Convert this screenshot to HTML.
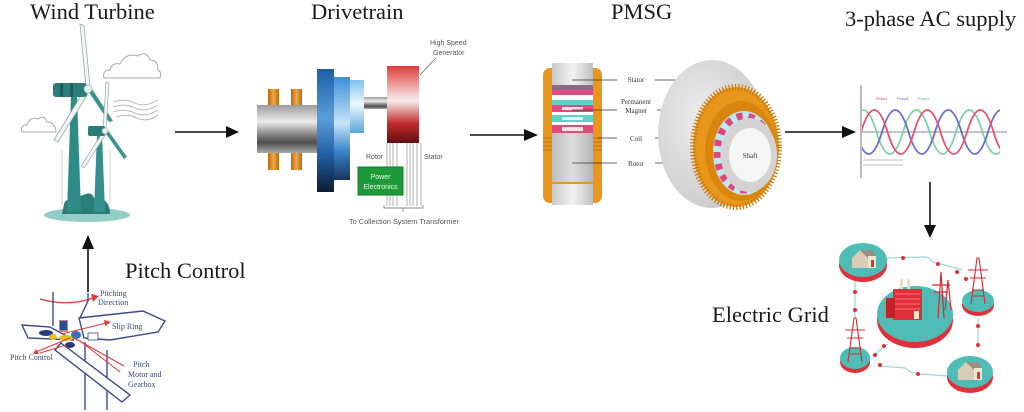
<!DOCTYPE html>
<html>
<head>
<meta charset="utf-8">
<style>
html,body{margin:0;padding:0;background:#fff;}
svg{display:block;}
.t{font-family:"Liberation Serif",serif;font-size:22.5px;fill:#1a1a1a;}
.s{font-family:"Liberation Sans",sans-serif;fill:#555;}
.ps{font-family:"Liberation Serif",serif;font-size:7px;fill:#333;}
.pc{font-family:"Liberation Serif",serif;font-size:8px;fill:#3a4a7a;}
</style>
</head>
<body>
<svg width="1024" height="412" viewBox="0 0 1024 412" xmlns="http://www.w3.org/2000/svg">
<defs>
  <linearGradient id="gray" x1="0" y1="0" x2="0" y2="1">
    <stop offset="0" stop-color="#9c9c9c"/>
    <stop offset="0.35" stop-color="#ececec"/>
    <stop offset="0.6" stop-color="#8a8a8a"/>
    <stop offset="0.78" stop-color="#4e4e4e"/>
    <stop offset="1" stop-color="#a8a8a8"/>
  </linearGradient>
  <linearGradient id="blue1" x1="0" y1="0" x2="0" y2="1">
    <stop offset="0" stop-color="#1c5fa8"/>
    <stop offset="0.4" stop-color="#5a9ed8"/>
    <stop offset="0.7" stop-color="#245ea4"/>
    <stop offset="1" stop-color="#0b1c33"/>
  </linearGradient>
  <linearGradient id="blue2" x1="0" y1="0" x2="0" y2="1">
    <stop offset="0" stop-color="#3b8fda"/>
    <stop offset="0.45" stop-color="#c6e4f7"/>
    <stop offset="0.72" stop-color="#3a84cc"/>
    <stop offset="1" stop-color="#16345e"/>
  </linearGradient>
  <linearGradient id="blue3" x1="0" y1="0" x2="0" y2="1">
    <stop offset="0" stop-color="#7fc2ee"/>
    <stop offset="0.45" stop-color="#eef7fc"/>
    <stop offset="1" stop-color="#5aa6dc"/>
  </linearGradient>
  <linearGradient id="red" x1="0" y1="0" x2="0" y2="1">
    <stop offset="0" stop-color="#e23c3c"/>
    <stop offset="0.45" stop-color="#f6eded"/>
    <stop offset="0.75" stop-color="#c02a2a"/>
    <stop offset="1" stop-color="#621010"/>
  </linearGradient>
  <linearGradient id="bolt" x1="0" y1="0" x2="1" y2="0">
    <stop offset="0" stop-color="#b86a10"/>
    <stop offset="0.5" stop-color="#f0a848"/>
    <stop offset="1" stop-color="#b86a10"/>
  </linearGradient>
  <linearGradient id="pg" x1="0" y1="0" x2="1" y2="0">
    <stop offset="0" stop-color="#c8c8c8"/>
    <stop offset="0.5" stop-color="#f2f2f2"/>
    <stop offset="1" stop-color="#c0c0c0"/>
  </linearGradient>
  <linearGradient id="pg2" x1="0" y1="0" x2="1" y2="0">
    <stop offset="0" stop-color="#bdbdbd"/>
    <stop offset="0.5" stop-color="#dedede"/>
    <stop offset="1" stop-color="#b5b5b5"/>
  </linearGradient>
  <radialGradient id="back" cx="0.4" cy="0.4" r="0.7">
    <stop offset="0" stop-color="#ededed"/>
    <stop offset="1" stop-color="#c9c9c9"/>
  </radialGradient>
  <clipPath id="wclip"><rect x="862" y="80" width="138" height="100"/></clipPath>
</defs>

<rect width="1024" height="412" fill="#fff"/>

<!-- ================= TITLES ================= -->
<text class="t" x="30" y="19">Wind Turbine</text>
<text class="t" x="311" y="19">Drivetrain</text>
<text class="t" x="611" y="19">PMSG</text>
<text class="t" x="845" y="26">3-phase AC supply</text>
<text class="t" x="125" y="278">Pitch Control</text>
<text class="t" x="712" y="322">Electric Grid</text>

<!-- ================= ARROWS ================= -->
<g stroke="#111" stroke-width="1.6" fill="#111">
  <line x1="175" y1="132" x2="228" y2="132"/>
  <polygon points="226,126 239,132 226,138" stroke="none"/>
  <line x1="470" y1="135" x2="526" y2="135"/>
  <polygon points="524,129 538,135 524,141" stroke="none"/>
  <line x1="785" y1="132" x2="844" y2="132"/>
  <polygon points="842,126 856,132 842,138" stroke="none"/>
  <line x1="930" y1="182" x2="930" y2="227"/>
  <polygon points="924,225 930,238 936,225" stroke="none"/>
  <line x1="88" y1="292" x2="88" y2="247"/>
  <polygon points="82,249 88,235 94,249" stroke="none"/>
</g>

<!-- ================= WIND TURBINE ================= -->
<g>
  <!-- clouds -->
  <path d="M104,78 Q102,70 110,70 Q112,62 120,64 Q126,52 138,56 Q146,50 150,60 Q158,60 158,70 Q162,72 160,78 Z" fill="none" stroke="#aaa" stroke-width="1"/>
  <path d="M22,132 Q20,125 27,125 Q30,116 38,119 Q44,114 47,122 Q55,122 56,132 Z" fill="none" stroke="#aaa" stroke-width="1"/>
  <!-- wind lines -->
  <g fill="none" stroke="#b0b0b0" stroke-width="0.9">
    <path d="M113,102 Q125,98 135,103 T158,100"/>
    <path d="M113,107 Q125,103 135,108 T158,105"/>
    <path d="M113,112 Q125,108 135,113 T158,110"/>
    <path d="M116,117 Q127,113 137,118 T158,115"/>
  </g>
  <!-- base -->
  <ellipse cx="87" cy="215" rx="43" ry="7" fill="#93cdc6"/>
  <path d="M62,214 L64,204 Q66,198 70,202 L72,196 Q76,192 80,196 L86,194 Q92,192 94,198 L104,200 Q110,204 110,214 Z" fill="#2a7d78"/>
  <!-- big tower -->
  <polygon points="71,96 77,96 81,212 67,212" fill="#2f8b86"/>
  <!-- small tower -->
  <polygon points="97,134 102,134 105,212 94,212" fill="#358f8a"/>
  <!-- big blades -->
  <polygon points="86,87 80,24 84,26 90,86" fill="#f4f7f7" stroke="#9aa" stroke-width="0.8"/>
  <polygon points="86,88 90,86 113,121 109,122" fill="#3a938e"/>
  <polygon points="85,89 89,92 58,142 54,140" fill="#f0f4f4" stroke="#9aa" stroke-width="0.8"/>
  <!-- big nacelle -->
  <rect x="53" y="83" width="34" height="14" rx="3" fill="#2a7d78"/>
  <rect x="60" y="83" width="3" height="14" fill="#1c5e5a"/>
  <rect x="70" y="83" width="3" height="14" fill="#1c5e5a"/>
  <circle cx="88" cy="89" r="4" fill="#e8eeee" stroke="#9aa" stroke-width="0.6"/>
  <!-- small blades -->
  <polygon points="103,130 106,82 109,83 106,130" fill="#f4f7f7" stroke="#9aa" stroke-width="0.7"/>
  <polygon points="104,131 107,129 127,157 124,159" fill="#3a938e"/>
  <polygon points="103,132 106,134 84,168 81,166" fill="#f0f4f4" stroke="#9aa" stroke-width="0.7"/>
  <rect x="88" y="126" width="17" height="10" rx="2" fill="#2a7d78"/>
  <circle cx="105" cy="131" r="3" fill="#e8eeee" stroke="#9aa" stroke-width="0.5"/>
  <!-- faint sketch lines -->
  <line x1="62" y1="150" x2="62" y2="205" stroke="#c8c8c8" stroke-width="0.8"/>
  <line x1="110" y1="150" x2="110" y2="205" stroke="#c8c8c8" stroke-width="0.8"/>
</g>

<!-- ================= DRIVETRAIN ================= -->
<g>
  <!-- bolts -->
  <rect x="268" y="89" width="11" height="17" fill="url(#bolt)"/>
  <rect x="291" y="89" width="11" height="17" fill="url(#bolt)"/>
  <rect x="268" y="152" width="11" height="18" fill="url(#bolt)"/>
  <rect x="291" y="152" width="11" height="18" fill="url(#bolt)"/>
  <!-- main cylinder -->
  <rect x="257" y="105" width="62" height="48" fill="url(#gray)"/>
  <!-- blue disks -->
  <rect x="317" y="69" width="17" height="123" fill="url(#blue1)"/>
  <rect x="334" y="77" width="16" height="103" fill="url(#blue2)"/>
  <rect x="350" y="80" width="14" height="53" fill="url(#blue3)"/>
  <!-- shaft -->
  <rect x="364" y="97" width="24" height="12" fill="url(#gray)"/>
  <!-- generator -->
  <rect x="387" y="66" width="32" height="77" fill="url(#red)"/>
  <!-- label -->
  <text class="s" x="430" y="45" font-size="7">High Speed</text>
  <text class="s" x="433" y="55" font-size="7">Generator</text>
  <line x1="436" y1="58" x2="420" y2="75" stroke="#666" stroke-width="0.8"/>
  <!-- wires -->
  <g stroke="#aaa" stroke-width="0.9">
    <line x1="387" y1="143" x2="387" y2="206"/>
    <line x1="390" y1="143" x2="390" y2="206"/>
    <line x1="393" y1="143" x2="393" y2="206"/>
    <line x1="397" y1="143" x2="397" y2="206"/>
    <line x1="407" y1="143" x2="407" y2="206"/>
    <line x1="410" y1="143" x2="410" y2="206"/>
    <line x1="413" y1="143" x2="413" y2="206"/>
    <line x1="417" y1="143" x2="417" y2="206"/>
    <line x1="421" y1="143" x2="421" y2="206"/>
  </g>
  <path d="M384,205 L384,208 L423,208 L423,205 M403,208 L403,212" fill="none" stroke="#888" stroke-width="0.9"/>
  <text class="s" x="366" y="159" font-size="7">Rotor</text>
  <text class="s" x="424" y="159" font-size="7">Stator</text>
  <rect x="358" y="167" width="45" height="28" fill="#1f9a3a" stroke="#147a2a" stroke-width="1"/>
  <text x="380.5" y="179" font-family="Liberation Sans,sans-serif" font-size="7" fill="#e8ffe8" text-anchor="middle">Power</text>
  <text x="380.5" y="189" font-family="Liberation Sans,sans-serif" font-size="7" fill="#e8ffe8" text-anchor="middle">Electronics</text>
  <text class="s" x="349" y="224" font-size="7.5" textLength="110" lengthAdjust="spacingAndGlyphs">To Collection System Transformer</text>
</g>

<!-- ================= PMSG LEFT ================= -->
<g>
  <rect x="543" y="68" width="59" height="135" rx="7" fill="#e8961c"/>
  <g stroke="#b86d08" stroke-width="1">
    <line x1="543" y1="138" x2="552" y2="138"/><line x1="543" y1="142" x2="552" y2="142"/>
    <line x1="543" y1="146" x2="552" y2="146"/><line x1="543" y1="150" x2="552" y2="150"/>
    <line x1="593" y1="138" x2="602" y2="138"/><line x1="593" y1="142" x2="602" y2="142"/>
    <line x1="593" y1="146" x2="602" y2="146"/><line x1="593" y1="150" x2="602" y2="150"/>
  </g>
  <rect x="552" y="63" width="41" height="22" fill="url(#pg)"/>
  <rect x="552" y="85" width="41" height="5" fill="#8a6a86"/>
  <rect x="552" y="90" width="41" height="5" fill="#e24a7c"/>
  <rect x="552" y="95" width="41" height="5" fill="#ffffff"/>
  <rect x="552" y="100" width="41" height="5" fill="#5fd2cb"/>
  <rect x="552" y="105" width="41" height="7" fill="#e24a7c"/>
  <rect x="562" y="107" width="21" height="3" fill="#fbe0ea"/>
  <rect x="552" y="112" width="41" height="3" fill="#ffffff"/>
  <rect x="552" y="115" width="41" height="7" fill="#5fd2cb"/>
  <rect x="562" y="117" width="21" height="3" fill="#e0f7f5"/>
  <rect x="552" y="122" width="41" height="3" fill="#ffffff"/>
  <rect x="552" y="125" width="41" height="8" fill="#e24a7c"/>
  <rect x="562" y="127" width="21" height="4" fill="#fbe0ea"/>
  <rect x="552" y="133" width="41" height="49" fill="url(#pg2)"/>
  <rect x="552" y="184" width="41" height="21" fill="url(#pg)"/>
</g>

<!-- ================= PMSG LABELS ================= -->
<g stroke="#333" stroke-width="0.8">
  <line x1="572" y1="80" x2="617" y2="80"/>
  <line x1="655" y1="80" x2="693" y2="80"/>
  <line x1="572" y1="110" x2="617" y2="110"/>
  <line x1="657" y1="110" x2="723" y2="110"/>
  <line x1="598" y1="138" x2="617" y2="138"/>
  <line x1="655" y1="138" x2="695" y2="138"/>
  <line x1="572" y1="163" x2="617" y2="163"/>
  <line x1="655" y1="163" x2="727" y2="163"/>
</g>
<text class="ps" x="636" y="82" text-anchor="middle">Stator</text>
<text class="ps" x="636" y="104" text-anchor="middle">Permanent</text>
<text class="ps" x="636" y="113" text-anchor="middle">Magnet</text>
<text class="ps" x="636" y="141" text-anchor="middle">Coil</text>
<text class="ps" x="636" y="166" text-anchor="middle">Rotor</text>

<!-- ================= PMSG RIGHT ================= -->
<g>
  <ellipse cx="712" cy="134" rx="54" ry="74" fill="url(#back)"/>
  <ellipse cx="736" cy="147" rx="43" ry="60" fill="#e8961c"/>
  <ellipse cx="736" cy="147" rx="43" ry="60" fill="none" stroke="#c47708" stroke-width="6" stroke-dasharray="1.2 2"/>
  <ellipse cx="741" cy="151" rx="36" ry="50" fill="#d9860f"/>
  <ellipse cx="744" cy="153" rx="31" ry="42" fill="#bfe9f0"/>
  <ellipse cx="744" cy="153" rx="27" ry="37" fill="none" stroke="#e2457a" stroke-width="7" stroke-dasharray="6 6"/>
  <ellipse cx="749" cy="155" rx="28" ry="37" fill="#d3d3d3"/>
  <ellipse cx="750" cy="155" rx="21" ry="27" fill="#f6f6f6"/>
  <text class="ps" x="750" y="158" text-anchor="middle" font-size="6.5">Shaft</text>
</g>

<!-- ================= 3-PHASE ================= -->
<g>
  <line x1="861" y1="85" x2="861" y2="178" stroke="#777" stroke-width="1"/>
  <line x1="861" y1="132" x2="1007" y2="132" stroke="#888" stroke-width="1"/>
  <g clip-path="url(#wclip)" fill="none" stroke-width="1.8">
    <path d="M797,132 Q810.25,88 823.5,132 T850,132 T876.5,132 T903,132 T929.5,132 T956,132 T982.5,132 T1009,132" stroke="#7fcfa8"/>
    <path d="M776,132 Q789.25,88 802.5,132 T829,132 T855.5,132 T882,132 T908.5,132 T935,132 T961.5,132 T988,132 T1014.5,132" stroke="#6a6ad2"/>
    <path d="M808,132 Q821.25,88 834.5,132 T861,132 T887.5,132 T914,132 T940.5,132 T967,132 T993.5,132 T1020,132" stroke="#e8506a"/>
  </g>
  <text x="876" y="100" font-family="Liberation Sans,sans-serif" font-size="3.5" fill="#e8506a">Phase1</text>
  <text x="897" y="100" font-family="Liberation Sans,sans-serif" font-size="3.5" fill="#6a6ad2">Phase2</text>
  <text x="917" y="100" font-family="Liberation Sans,sans-serif" font-size="3.5" fill="#5fbf90">Phase3</text>
  <path d="M863,160 L903,160 M863,165 L903,165" stroke="#aaa" stroke-width="0.7"/>
</g>

<!-- ================= ELECTRIC GRID ================= -->
<g>
  <!-- connection lines -->
  <g fill="none" stroke="#9ed6d0" stroke-width="1.2">
    <path d="M887,258 L925,257 Q930,257 932,262 L945,265 L962,270"/>
    <path d="M978,318 L978,348"/>
    <path d="M948,376 L920,374 Q910,373 905,368 L878,366"/>
    <path d="M872,356 L880,350 L888,344"/>
    <path d="M855,280 L855,318"/>
  </g>
  <g fill="#e0303a">
    <circle cx="903" cy="258" r="2"/><circle cx="938" cy="264" r="2"/>
    <circle cx="957" cy="272" r="2"/><circle cx="966" cy="279" r="2"/>
    <circle cx="978" cy="326" r="2"/><circle cx="978" cy="345" r="2"/>
    <circle cx="880" cy="365" r="2"/><circle cx="918" cy="374" r="2"/>
    <circle cx="875" cy="355" r="2"/><circle cx="884" cy="346" r="2"/>
    <circle cx="855" cy="292" r="2"/><circle cx="855" cy="310" r="2"/>
  </g>
  <!-- big disc -->
  <ellipse cx="915" cy="320" rx="38" ry="28" fill="#e0303a"/>
  <ellipse cx="915" cy="314" rx="38" ry="28" fill="#4fbdb5"/>
  <!-- factory -->
  <rect x="900" y="279" width="3" height="10" fill="#e9e0c8"/>
  <rect x="907" y="279" width="3" height="10" fill="#e9e0c8"/>
  <polygon points="893,289 922,289 922,320 893,320" fill="#e0303a"/>
  <polygon points="886,298 895,298 895,318 886,318" fill="#c42028"/>
  <g stroke="#ff8a8a" stroke-width="0.7">
    <line x1="895" y1="294" x2="920" y2="294"/><line x1="895" y1="299" x2="920" y2="299"/>
    <line x1="895" y1="304" x2="920" y2="304"/><line x1="895" y1="309" x2="920" y2="309"/>
  </g>
  <rect x="914" y="311" width="5" height="8" fill="#f5e8c8"/>
  <!-- red pylons on big disc -->
  <g stroke="#d42a32" stroke-width="1.2" fill="none">
    <path d="M938,318 L941,272 L944,318 M932,285 L950,285 M934,292 L948,292"/>
    <path d="M945,310 L948,280 L951,310"/>
  </g>
  <!-- house disc TL -->
  <ellipse cx="863" cy="265" rx="24" ry="17" fill="#e0303a"/>
  <ellipse cx="863" cy="260" rx="24" ry="17" fill="#4fbdb5"/>
  <polygon points="852,258 860,250 868,258 868,268 852,268" fill="#d9cdb5"/>
  <polygon points="860,250 872,250 876,256 868,258" fill="#9a8f80"/>
  <rect x="868" y="256" width="8" height="12" fill="#efe6d2"/>
  <rect x="871" y="260" width="3" height="7" fill="#e0303a"/>
  <!-- house disc BR -->
  <ellipse cx="970" cy="377" rx="23" ry="16" fill="#e0303a"/>
  <ellipse cx="970" cy="372" rx="23" ry="16" fill="#4fbdb5"/>
  <polygon points="958,370 966,362 974,370 974,380 958,380" fill="#d9cdb5"/>
  <polygon points="966,362 978,362 982,368 974,370" fill="#9a8f80"/>
  <rect x="974" y="368" width="8" height="12" fill="#efe6d2"/>
  <rect x="977" y="372" width="3" height="7" fill="#e0303a"/>
  <!-- tower disc R -->
  <ellipse cx="978" cy="305" rx="16" ry="11" fill="#e0303a"/>
  <ellipse cx="978" cy="301" rx="16" ry="11" fill="#4fbdb5"/>
  <g stroke="#d42a32" stroke-width="1.1" fill="none">
    <path d="M971,304 L977,258 L979,258 L985,304 M968,270 L988,270 M970,278 L986,278 M972,290 L984,290 M973,296 L983,296"/>
  </g>
  <!-- tower disc L -->
  <ellipse cx="855" cy="362" rx="15" ry="11" fill="#e0303a"/>
  <ellipse cx="855" cy="358" rx="15" ry="11" fill="#4fbdb5"/>
  <g stroke="#d42a32" stroke-width="1.1" fill="none">
    <path d="M848,362 L854,318 L856,318 L862,362 M845,330 L865,330 M847,338 L863,338 M849,348 L861,348 M850,354 L860,354"/>
  </g>
</g>

<!-- ================= PITCH CONTROL DIAGRAM ================= -->
<g>
  <!-- red arc -->
  <path d="M40,299 Q68,307 93,298" fill="none" stroke="#e03a3a" stroke-width="1.3"/>
  <polygon points="91,294 99,296 93,302" fill="#e03a3a"/>
  <!-- vertical lines -->
  <g stroke="#3a4a8a" stroke-width="1.4" fill="none">
    <line x1="53" y1="292" x2="53" y2="326"/>
    <path d="M88,293 L88,301 L79,320"/>
    <line x1="85" y1="342" x2="85" y2="410"/>
    <line x1="107" y1="350" x2="107" y2="410"/>
  </g>
  <!-- blades -->
  <g fill="#fff" stroke="#3a4a8a" stroke-width="1.4">
    <polygon points="79,318 143,311 165,321 158,332 110,340 84,338"/>
    <polygon points="22,325 50,327 74,340 28,338"/>
    <polygon points="61,343 130,395 122,402 55,350"/>
  </g>
  <!-- hub parts -->
  <rect x="59" y="320" width="9" height="12" fill="#d87a80"/>
  <rect x="60" y="321" width="7" height="9" fill="#2a5090"/>
  <ellipse cx="46" cy="333" rx="7" ry="3" fill="#2a3a7a"/>
  <ellipse cx="53" cy="337" rx="4" ry="3" fill="#e6c020"/>
  <ellipse cx="66" cy="338" rx="7" ry="3" fill="#e6c020"/>
  <ellipse cx="76" cy="335" rx="5" ry="4" fill="#3a70c0"/>
  <ellipse cx="70" cy="345" rx="5" ry="3" fill="#2a3a7a"/>
  <rect x="88" y="333" width="10" height="7" fill="#fff" stroke="#3a4a8a" stroke-width="0.8"/>
  <!-- red pointer lines -->
  <g stroke="#e03a3a" stroke-width="1.1">
    <line x1="62" y1="334" x2="106" y2="323"/>
    <line x1="36" y1="352" x2="70" y2="338"/>
    <line x1="40" y1="353" x2="66" y2="345"/>
    <line x1="74" y1="338" x2="124" y2="366"/>
    <line x1="80" y1="341" x2="120" y2="372"/>
  </g>
  <polygon points="104,320 111,322 105,326" fill="#e03a3a"/>
  <polygon points="36,349 33,354 39,354" fill="#e03a3a"/>
  <!-- labels -->
  <text class="pc" x="100" y="296">Pitching</text>
  <text class="pc" x="98" y="305">Direction</text>
  <text class="pc" x="112" y="329">Slip Ring</text>
  <text class="pc" x="10" y="360">Pitch Control</text>
  <text class="pc" x="133" y="367">Pitch</text>
  <text class="pc" x="128" y="377">Motor and</text>
  <text class="pc" x="128" y="387">Gearbox</text>
</g>
</svg>
</body>
</html>
